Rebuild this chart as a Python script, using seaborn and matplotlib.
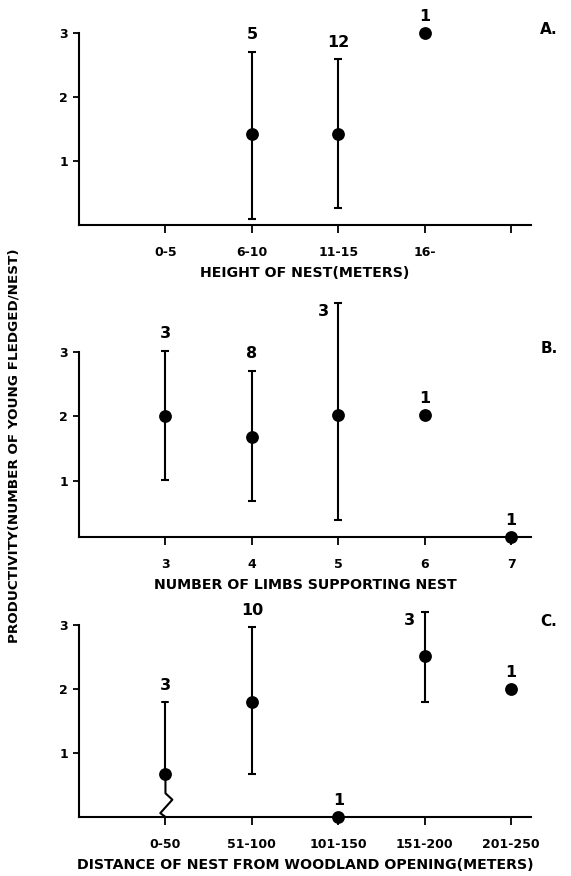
import numpy as np
import pandas as pd
import seaborn as sns
import matplotlib.pyplot as plt

# panel A: height of nest
height_cats = ["0-5", "6-10", "11-15", "16-", ""]
height_mean = [np.nan, 1.42, 1.42, 3.0, np.nan]
height_lo = [np.nan, 0.09, 0.27, np.nan, np.nan]
height_hi = [np.nan, 2.71, 2.59, np.nan, np.nan]
height_n = ["", "5", "12", "1", ""]

# panel B: number of limbs supporting nest
limb_cats = ["3", "4", "5", "6", "7"]
limb_mean = [2.0, 1.68, 2.02, 2.02, 0.13]
limb_lo = [1.02, 0.69, 0.40, np.nan, np.nan]
limb_hi = [3.02, 2.71, 3.76, np.nan, np.nan]
limb_n = ["3", "8", "3", "1", "1"]

# panel C: distance from woodland opening
dist_cats = ["0-50", "51-100", "101-150", "151-200", "201-250"]
dist_mean = [0.67, 1.80, 0.0, 2.52, 2.0]
dist_lo = [0.37, 0.67, np.nan, 1.80, np.nan]
dist_hi = [1.80, 2.97, np.nan, 3.20, np.nan]
dist_n = ["3", "10", "1", "3", "1"]

sns.set_style("ticks")
plt.rcParams["font.family"] = ["DejaVu Sans"]
plt.rcParams["font.weight"] = "bold"
for key in ["text.color", "axes.labelcolor", "xtick.color", "ytick.color", "axes.edgecolor"]:
    plt.rcParams[key] = "black"

fig = plt.figure(figsize=(5.71, 8.76), dpi=100)

panels = [
    dict(cats=height_cats, mean=height_mean, lo=height_lo, hi=height_hi, n=height_n,
         xlabel="HEIGHT OF NEST(METERS)", tag="A.", ylim=(0, 3.4),
         rect=[0.1384, 0.7432, 0.7916, 0.2484], left_labels=[]),
    dict(cats=limb_cats, mean=limb_mean, lo=limb_lo, hi=limb_hi, n=limb_n,
         xlabel="NUMBER OF LIMBS SUPPORTING NEST", tag="B.", ylim=(0.13, 3.85),
         rect=[0.1384, 0.3870, 0.7916, 0.2740], left_labels=[2]),
    dict(cats=dist_cats, mean=dist_mean, lo=dist_lo, hi=dist_hi, n=dist_n,
         xlabel="DISTANCE OF NEST FROM WOODLAND OPENING(METERS)", tag="C.", ylim=(0, 3.4),
         rect=[0.1384, 0.0674, 0.7916, 0.2484], left_labels=[3]),
]

for k, p in enumerate(panels):
    ax = fig.add_axes(p["rect"])
    pos = np.arange(1, len(p["cats"]) + 1)
    df = pd.DataFrame({"pos": pos, "mean": p["mean"], "lo": p["lo"], "hi": p["hi"], "n": p["n"]})

    # error bars (only where a range exists)
    eb = df.dropna(subset=["lo"])
    if k == 2:
        # first category in C has a broken lower whisker drawn separately
        first = eb.iloc[0]
        ax.plot([first["pos"], first["pos"]], [first["mean"], first["hi"]], color="black", lw=1.5)
        ax.plot([first["pos"] - 0.035, first["pos"] + 0.035], [first["hi"]] * 2, color="black", lw=1.5)
        ax.plot([first["pos"], first["pos"], first["pos"] + 0.08, first["pos"] - 0.06, first["pos"]],
                [first["mean"], first["lo"], 0.27, 0.06, 0.0], color="black", lw=1.5, clip_on=False)
        eb = eb.iloc[1:]
    ax.errorbar(eb["pos"], eb["mean"],
                yerr=[eb["mean"] - eb["lo"], eb["hi"] - eb["mean"]],
                fmt="none", ecolor="black", elinewidth=1.5, capsize=3, capthick=1.5)

    pts = df.dropna(subset=["mean"])
    sns.scatterplot(data=pts, x="pos", y="mean", ax=ax, color="black", s=85,
                    edgecolor="black", linewidth=0, zorder=5, clip_on=False, legend=False)

    # sample size labels
    for i, row in pts.iterrows():
        top = row["hi"] if not np.isnan(row["hi"]) else row["mean"]
        if i in p["left_labels"]:
            ax.annotate(row["n"], (row["pos"], top), xytext=(-11, -6), textcoords="offset points",
                        ha="center", va="center", fontsize=11.5, fontweight="bold")
        else:
            ax.annotate(row["n"], (row["pos"], top), xytext=(0, 12), textcoords="offset points",
                        ha="center", va="center", fontsize=11.5, fontweight="bold",
                        annotation_clip=False)

    ax.set_xlim(0, 5.23)
    ax.set_ylim(*p["ylim"])
    ax.set_xticks(pos)
    ax.set_xticklabels(p["cats"], fontsize=9, fontweight="bold")
    ax.set_yticks([1, 2, 3])
    ax.set_yticklabels(["1", "2", "3"], fontsize=9, fontweight="bold")
    ax.tick_params(axis="x", length=6, width=1.3, pad=9)
    ax.tick_params(axis="y", length=4, width=1.3, pad=4)
    ax.set_xlabel(p["xlabel"], fontsize=10.2, fontweight="bold", labelpad=5)
    ax.set_ylabel("")
    sns.despine(ax=ax)
    ax.spines["left"].set_bounds(p["ylim"][0], 3)
    ax.spines["left"].set_linewidth(1.5)
    ax.spines["bottom"].set_linewidth(1.5)
    ax.patch.set_alpha(0)

    ax.text(1.04, 3.05, p["tag"], transform=ax.get_yaxis_transform(), fontsize=11,
            fontweight="bold", ha="center", va="center")

fig.text(0.024, 1 - 446 / 876, "PRODUCTIVITY(NUMBER OF YOUNG FLEDGED/NEST)", rotation=90,
         fontsize=9.7, fontweight="bold", ha="center", va="center")

fig.savefig("out.png", dpi=100)
